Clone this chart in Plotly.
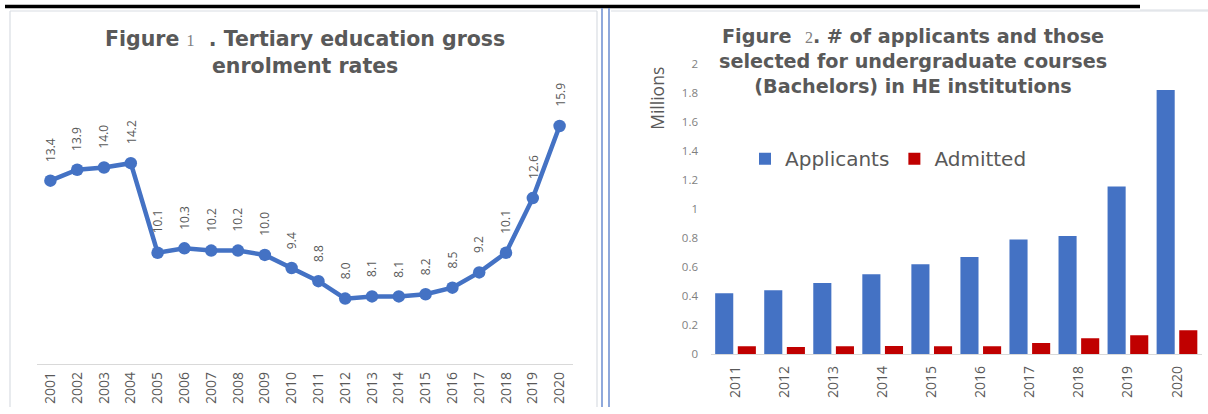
import plotly.graph_objects as go

# ---- data ----
years_enrol = list(range(2001, 2021))
enrol_rate = [13.4, 13.9, 14.0, 14.2, 10.1, 10.3, 10.2, 10.2, 10.0, 9.4,
              8.8, 8.0, 8.1, 8.1, 8.2, 8.5, 9.2, 10.1, 12.6, 15.9]

years_apps = [str(y) for y in range(2011, 2021)]
applicants = [0.42, 0.44, 0.49, 0.55, 0.62, 0.67, 0.79, 0.815, 1.155, 1.82]
admitted = [0.055, 0.05, 0.055, 0.057, 0.055, 0.055, 0.077, 0.11, 0.13, 0.165]

W, H = 1208, 414
# vertical placement factors for the page area
Y_OFF, Y_SCALE = 7.0, 0.966


def px(x):
    return x / W


def py(y):
    return 1 - ((y - Y_OFF) / Y_SCALE) / H


GREY = "#595959"
BLUE = "#4472C4"
RED = "#C00000"
FONT = "Open Sans"
WIDE = "DejaVu Sans"

fig = go.Figure()

# Figure 1: enrolment rate line
fig.add_trace(go.Scatter(
    x=years_enrol, y=enrol_rate, mode="lines+markers",
    line=dict(color=BLUE, width=4.5),
    marker=dict(color=BLUE, size=12.5),
    xaxis="x", yaxis="y", showlegend=False, hoverinfo="skip",
))

# Figure 2: applicants vs admitted
fig.add_trace(go.Bar(x=years_apps, y=applicants, name="Applicants",
                     marker=dict(color=BLUE, line=dict(width=0)),
                     xaxis="x2", yaxis="y2"))
fig.add_trace(go.Bar(x=years_apps, y=admitted, name="Admitted",
                     marker=dict(color=RED, line=dict(width=0)),
                     xaxis="x2", yaxis="y2"))

annotations = []

# rotated value labels above each point
for yr, v in zip(years_enrol, enrol_rate):
    annotations.append(dict(
        x=yr, y=v, xref="x", yref="y", text=f"{v:.1f}", textangle=-90,
        showarrow=False, yanchor="bottom", xanchor="center", yshift=17,
        font=dict(family=FONT, size=12, color=GREY),
    ))

num_style = ("font-family:'Liberation Serif';font-weight:normal;"
             "color:#7f7f7f;font-size:16px")

annotations.append(dict(
    x=px(305), y=py(52), xref="paper", yref="paper", showarrow=False,
    xanchor="center", yanchor="middle", align="center",
    text=(f"<b>Figure </b><span style=\"{num_style}\">1</span><b>  . Tertiary education gross"
          "<br>enrolment rates</b>"),
    font=dict(family=WIDE, size=20.5, color=GREY),
))

annotations.append(dict(
    x=px(913), y=py(60.5), xref="paper", yref="paper", showarrow=False,
    xanchor="center", yanchor="middle", align="center",
    text=(f"<b>Figure  </b><span style=\"{num_style}\">2</span><b>. # of applicants and those"
          "<br>selected for undergraduate courses"
          "<br>(Bachelors) in HE institutions</b>"),
    font=dict(family=WIDE, size=19.2, color=GREY),
))

annotations.append(dict(
    x=px(657), y=py(98), xref="paper", yref="paper", showarrow=False,
    xanchor="center", yanchor="middle", text="Millions", textangle=-90,
    font=dict(family=FONT, size=17.5, color=GREY),
))

BORDER = "#D9DDE3"
shapes = [
    # rule across the top
    dict(type="line", xref="paper", yref="paper", x0=px(5), x1=px(1140),
         y0=py(5.5), y1=py(5.5), line=dict(color="black", width=3.5)),
    dict(type="line", xref="paper", yref="paper", x0=px(1140), x1=1,
         y0=py(9), y1=py(9), line=dict(color=BORDER, width=1.2)),
    # left panel frame
    dict(type="line", xref="paper", yref="paper", x0=px(10), x1=px(10),
         y0=py(10), y1=0, line=dict(color=BORDER, width=1.2)),
    dict(type="line", xref="paper", yref="paper", x0=px(10), x1=px(597),
         y0=py(10), y1=py(10), line=dict(color=BORDER, width=1.2)),
    dict(type="line", xref="paper", yref="paper", x0=px(597), x1=px(597),
         y0=py(10), y1=0, line=dict(color=BORDER, width=1.2)),
    # right panel frame
    dict(type="line", xref="paper", yref="paper", x0=px(611), x1=1,
         y0=py(10), y1=py(10), line=dict(color=BORDER, width=1.2)),
    # double blue divider
    dict(type="line", xref="paper", yref="paper", x0=px(602), x1=px(602),
         y0=py(7), y1=0, line=dict(color="#7393D3", width=1.6)),
    dict(type="line", xref="paper", yref="paper", x0=px(609), x1=px(609),
         y0=py(7), y1=0, line=dict(color="#7393D3", width=1.6)),
]

fig.update_layout(
    width=W, height=H, margin=dict(l=0, r=0, t=0, b=0),
    paper_bgcolor="white", plot_bgcolor="rgba(0,0,0,0)",
    font=dict(family=FONT, color=GREY),
    barmode="group", bargap=0.078, bargroupgap=0.2,
    xaxis=dict(domain=[px(37), px(573)], anchor="y", type="linear",
               range=[2000.5, 2020.5], tickmode="array",
               tickvals=years_enrol, ticktext=[str(y) for y in years_enrol],
               showgrid=False, zeroline=False,
               showline=True, linecolor="#D9D9D9", linewidth=1.2,
               ticks="", tickangle=-90, ticklabelstandoff=1,
               tickfont=dict(family=FONT, size=14, color=GREY)),
    yaxis=dict(domain=[py(364), py(79.3)], anchor="x", range=[5, 18],
               showticklabels=False, showline=False, ticks="",
               showgrid=False, zeroline=False),
    xaxis2=dict(domain=[px(711), px(1201.5)], anchor="y2", type="category",
                range=[-0.5, 9.5], showgrid=False, zeroline=False,
                showline=True, linecolor="#D9D9D9", linewidth=1.2,
                ticks="", tickangle=-90, ticklabelstandoff=5,
                tickfont=dict(family=FONT, size=14, color=GREY)),
    yaxis2=dict(domain=[py(354), py(63)], anchor="x2", range=[0, 2],
                dtick=0.2, tick0=0, showgrid=False, zeroline=False,
                showline=False, ticks="", ticklabelstandoff=12,
                tickfont=dict(family=FONT, size=11.5, color="#7F7F7F")),
    showlegend=True,
    legend=dict(orientation="h", x=px(745), y=py(158), xanchor="left",
                yanchor="middle", bgcolor="rgba(0,0,0,0)",
                font=dict(family=WIDE, size=20, color=GREY),
                itemwidth=30, tracegroupgap=0),
    annotations=annotations,
    shapes=shapes,
)

# keep the page flush with the window edges
fig.write_html("out.html",
               post_script="document.body.style.margin='0';")
